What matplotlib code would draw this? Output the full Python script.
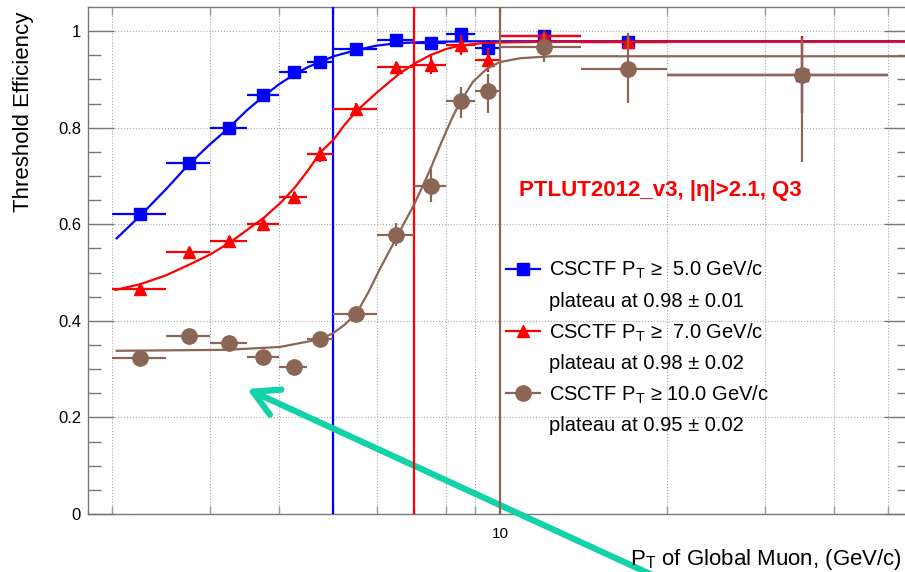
import numpy as np
import matplotlib
matplotlib.use("Agg")
import matplotlib.pyplot as plt
from matplotlib.lines import Line2D

plt.rcParams['font.family'] = ['Liberation Sans', 'DejaVu Sans']
plt.rcParams['mathtext.fontset'] = 'custom'
plt.rcParams['mathtext.rm'] = 'Liberation Sans'
plt.rcParams['mathtext.it'] = 'Liberation Sans:italic'

# bins in pT of global muon (GeV/c)
pt_lo = [2.0, 2.5, 3.0, 3.5, 4.0, 4.5, 5.0, 6.0, 7.0, 8.0, 9.0, 10.0, 14.0, 20.0]
pt_hi = [2.5, 3.0, 3.5, 4.0, 4.5, 5.0, 6.0, 7.0, 8.0, 9.0, 10.0, 14.0, 20.0, 50.0]
pt_center = [2.25, 2.75, 3.25, 3.75, 4.25, 4.75, 5.5, 6.5, 7.5, 8.5, 9.5, 12.0, 17.0, 35.0]

# threshold efficiencies
eff5 = [0.621, 0.727, 0.800, 0.867, 0.915, 0.937, 0.963, 0.981, 0.976, 0.995, 0.966, 0.990, 0.977, 0.910]
err5 = [0.012, 0.010, 0.009, 0.008, 0.007, 0.007, 0.006, 0.005, 0.008, 0.005, 0.015, 0.006, 0.010, 0.080]
eff7 = [0.466, 0.542, 0.565, 0.600, 0.656, 0.745, 0.839, 0.925, 0.930, 0.971, 0.941, 0.990, 0.977, 0.910]
err7 = [0.010, 0.010, 0.010, 0.010, 0.010, 0.015, 0.012, 0.012, 0.018, 0.020, 0.025, 0.010, 0.015, 0.080]
eff10 = [0.323, 0.369, 0.354, 0.325, 0.304, 0.362, 0.414, 0.578, 0.680, 0.855, 0.876, 0.967, 0.921, 0.909]
err10_lo = [0.010, 0.010, 0.010, 0.010, 0.010, 0.015, 0.015, 0.024, 0.034, 0.035, 0.045, 0.030, 0.070, 0.180]
err10_hi = [0.010, 0.010, 0.010, 0.010, 0.010, 0.015, 0.015, 0.024, 0.034, 0.030, 0.035, 0.030, 0.075, 0.076]

# fitted turn-on curves
fit5_x = [2.04, 2.25, 2.5, 2.74, 3.0, 3.25, 3.5, 3.76, 4.0, 4.27, 4.5, 4.76, 5.02, 5.52, 6.0, 6.52, 7.5, 9.0, 55.0]
fit5_y = [0.571, 0.618, 0.672, 0.722, 0.765, 0.800, 0.836, 0.866, 0.890, 0.911, 0.925, 0.937, 0.948, 0.961,
          0.970, 0.975, 0.978, 0.979, 0.979]
fit7_x = [2.03, 2.25, 2.5, 2.74, 3.0, 3.27, 3.5, 3.76, 4.03, 4.27, 4.5, 4.76, 5.02, 5.25, 5.52, 6.03, 6.61,
          7.0, 7.48, 8.0, 8.47, 9.47, 12.0, 55.0]
fit7_y = [0.464, 0.476, 0.494, 0.515, 0.537, 0.563, 0.588, 0.614, 0.645, 0.676, 0.710, 0.750, 0.776, 0.806,
          0.835, 0.875, 0.913, 0.932, 0.950, 0.963, 0.970, 0.976, 0.978, 0.978]
fit10_x = [2.04, 3.22, 4.02, 4.74, 5.0, 5.25, 5.52, 5.8, 6.08, 6.4, 6.69, 7.0, 7.48, 7.86, 8.2, 8.47, 8.94,
           9.47, 10.0, 10.9, 12.4, 55.0]
fit10_y = [0.338, 0.340, 0.346, 0.362, 0.374, 0.392, 0.416, 0.460, 0.508, 0.556, 0.598, 0.640, 0.712, 0.772,
           0.820, 0.852, 0.895, 0.922, 0.936, 0.944, 0.948, 0.948]

thresholds = [5.0, 7.0, 10.0]
plateaus = ['0.98', '0.98', '0.95']
plateau_errs = ['0.01', '0.02', '0.02']

blue = '#0000ff'
red = '#ff0000'
brown = '#8b6654'
teal = '#12d2a8'

fig = plt.figure(figsize=(9.05, 5.72), dpi=100)
ax = fig.add_axes([88 / 905, 58 / 572, 822 / 905, 507 / 572])

xlo = np.array(pt_center) - np.array(pt_lo)
xhi = np.array(pt_hi) - np.array(pt_center)

series = [
    (eff5, [err5, err5], fit5_x, fit5_y, blue, 's', 9),
    (eff7, [err7, err7], fit7_x, fit7_y, red, '^', 9),
    (eff10, [err10_lo, err10_hi], fit10_x, fit10_y, brown, 'o', 11),
]
for i, (eff, yerr, fx, fy, col, mk, ms) in enumerate(series):
    ax.errorbar(pt_center, eff, xerr=[xlo, xhi], yerr=yerr, fmt=mk, color=col,
                ms=ms, elinewidth=1.6, capsize=0, zorder=3 + i)
    ax.plot(fx, fy, color=col, lw=1.6, zorder=3 + i)
    ax.axvline(thresholds[i], color=col, lw=1.6, zorder=3 + i)

ax.set_xscale('log')
ax.set_xlim(1.811, 54.8)
ax.set_ylim(0, 1.05)

ax.set_yticks([0, 0.2, 0.4, 0.6, 0.8, 1.0])
ax.set_yticklabels(['0', '0.2', '0.4', '0.6', '0.8', '1'])
ax.set_yticks(np.arange(0, 1.05, 0.05), minor=True)
ax.set_xticks([10])
ax.set_xticklabels(['10'])
ax.xaxis.set_minor_formatter(matplotlib.ticker.NullFormatter())

ax.tick_params(axis='y', which='major', direction='in', length=19, width=1, color='#777777',
               labelsize=12, pad=5, right=True)
ax.tick_params(axis='y', which='minor', direction='in', length=9.5, width=1, color='#777777', right=True)
ax.tick_params(axis='x', which='both', direction='in', length=6, width=1, color='#999999',
               labelsize=11, pad=9, top=True)
ax.grid(True, which='both', axis='x', ls=':', color='#aaaaaa', lw=0.8)
ax.grid(True, which='major', axis='y', ls=':', color='#aaaaaa', lw=0.8)
ax.set_axisbelow(True)
for s in ax.spines.values():
    s.set_color('#777777')
    s.set_linewidth(1.0)

ax.text(0.5243, 0.639, 'PTLUT2012_v3, |η|>2.1, Q3', transform=ax.transAxes, color=red,
        fontsize=16, fontweight='bold', va='center', ha='left')

# legend
handles = []
labels = []
for thr, col, mk, ms, pl, pe_ in zip(thresholds, [blue, red, brown], ['s', '^', 'o'], [9, 9, 11],
                                     plateaus, plateau_errs):
    handles.append(Line2D([0], [0], color=col, marker=mk, ms=ms, lw=1.6))
    pad = ' ' if thr < 10 else ''
    labels.append(r'CSCTF P$_{\mathrm{T}}$ ≥ ' + pad + '%.1f GeV/c' % thr)
    handles.append(Line2D([0], [0], ls='none', marker=None))
    labels.append('plateau at %s ± %s' % (pl, pe_))
ax.legend(handles, labels, loc='upper left', bbox_to_anchor=(0.508, 0.503), frameon=False,
          fontsize=14.5, handlelength=1.7, handletextpad=0.45, labelspacing=0.52,
          borderpad=0, borderaxespad=0)

fig.text(23 / 905, 1 - 12 / 572, 'Threshold Efficiency', rotation=90, ha='center', va='top',
         fontsize=16)
fig.text(0.997, 0.013, r'P$_{\mathrm{T}}$ of Global Muon, (GeV/c)', ha='right', va='baseline',
         fontsize=16)

ax.annotate('', xy=(247, 572 - 389), xycoords='figure pixels',
            xytext=(672, -12), textcoords='figure pixels',
            arrowprops=dict(arrowstyle='->, head_length=1.0, head_width=0.55', color=teal, lw=4.5,
                            mutation_scale=18, shrinkA=0, shrinkB=0),
            annotation_clip=False)

fig.savefig('out.png', dpi=100)
